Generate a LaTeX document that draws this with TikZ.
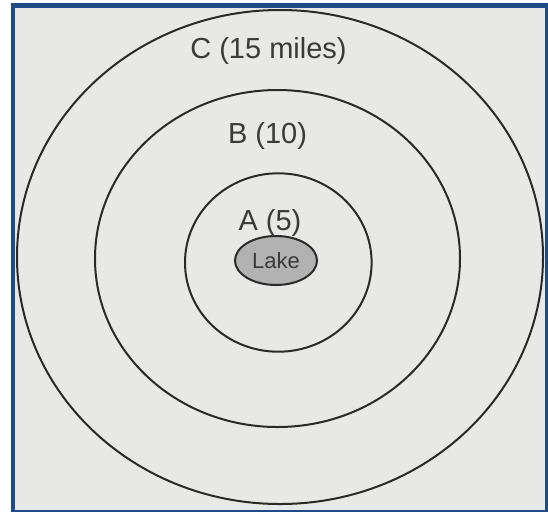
\documentclass[tikz,border=0pt]{standalone}
\usepackage{fontspec}
\setmainfont{Liberation Sans}
\usetikzlibrary{shapes.geometric}
\definecolor{frameblue}{HTML}{1E4C86}
\definecolor{bggray}{HTML}{E8E8E6}
\definecolor{lakegray}{HTML}{B2B2B2}
\definecolor{inkgray}{HTML}{2A2A2A}
\definecolor{textgray}{HTML}{3A3A3A}
\tikzset{
  ring/.style={draw=inkgray, line width=2pt},
  zonelabel/.style={anchor=base, inner sep=0pt, text=textgray, font=\fontsize{29}{32}\selectfont},
  lakebox/.style={ellipse, draw=inkgray, fill=lakegray, line width=2pt, minimum width=82pt, minimum height=49pt, inner sep=0pt, text=textgray, font=\fontsize{22}{24}\selectfont}
}
\begin{document}
\begin{tikzpicture}[x=1pt,y=-1pt]
\useasboundingbox (0,0) rectangle (548,512);
\fill[white] (0,0) rectangle (548,512);
\fill[frameblue] (11,3) rectangle (548,512);
\fill[bggray] (15,8) rectangle (545,510);
\draw[ring] (280,257) ellipse [x radius=263pt, y radius=247pt];
\draw[ring] (277.5,258.5) ellipse [x radius=182.5pt, y radius=168.5pt];
\draw[ring] (278.3,262.5) ellipse [x radius=93.3pt, y radius=89.2pt];
\node[lakebox] (lake) at (276,260.5) {Lake};
\node[zonelabel] (labC) at (268.5,58.5) {C (15 miles)};
\node[zonelabel] (labB) at (267.5,143.5) {B (10)};
\node[zonelabel] (labA) at (270,230.5) {A (5)};
\end{tikzpicture}
\end{document}
